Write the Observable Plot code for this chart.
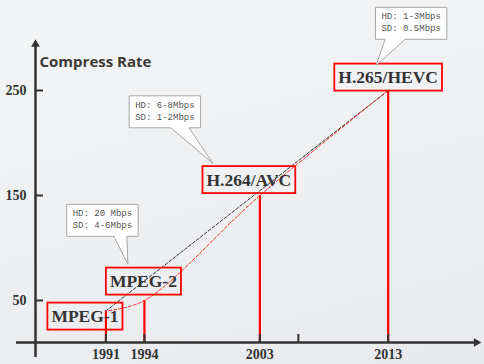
<!DOCTYPE html>
<html><head><meta charset="utf-8">
<script src="https://cdn.jsdelivr.net/npm/d3@7"></script>
<script src="https://cdn.jsdelivr.net/npm/@observablehq/plot@0.6"></script>
<style>
html,body{margin:0;padding:0;}
body{width:484px;height:364px;overflow:hidden;background:linear-gradient(165deg,#f4f5f6 0%,#eef0f2 50%,#e7e9ec 100%);}
#chart svg{display:block;}
</style></head><body><div id="chart"></div>
<script>
// ---- data ----
const standards = ["MPEG-1", "MPEG-2", "H.264/AVC", "H.265/HEVC"];
const years = [1991, 1994, 2003, 2013];
const rates = [40, 50, 150, 250];
const yTicks = [50, 150, 250];
const xTicks = [1991, 1994, 2003, 2006, 2013];
const xTickLabels = ["1991", "1994", "2003", "", "2013"];
const calloutFor = ["H.264/AVC", "H.265/HEVC", "MPEG-2"];
const calloutText = ["HD: 6-8Mbps\nSD: 1-2Mbps", "HD: 1-3Mbps\nSD: 0.5Mbps", "HD: 20 Mbps\nSD: 4-6Mbps"];
const yTitle = "Compress Rate";

// ---- layout / style ----
const W = 484, H = 364;
const marginLeft = 35, marginBottom = 22;
const xDomain = [1985.51, 2020.51];
const yDomain = [10, 335.7];
const x0 = xDomain[0], y0 = yDomain[0];
const pxPerYear = (W - marginLeft) / (xDomain[1] - xDomain[0]);
const pxPerUnit = (H - marginBottom) / (yDomain[1] - yDomain[0]);
const yArrowTop = 293, xArrowEnd = 2019.8;
const axisColor = "#333";
const labelOffsets = [[-21, 5.5], [-1, -19], [-11, -15.5], [0, -13]];
const calloutOffsets = [[-95, -85.5], [23, -69], [-42, -82]];
const calloutTips = [[48, 51.5], [-35, 42], [25.5, 44]];
const calloutBases = [[6, 24], [-26, -6], [11.5, 24.5]];

const points = standards.map((s, i) => ({standard: s, year: years[i], rate: rates[i]}));
const serif = "'Liberation Serif', 'Times New Roman', serif";

const marks = [
  Plot.ruleX(points, {x: "year", y1: y0, y2: "rate", stroke: "#ff0000", strokeWidth: 2.2}),
  Plot.line([points[0], points[points.length - 1]], {x: "year", y: "rate", stroke: "#333", strokeWidth: 1, strokeDasharray: "3,2"}),
  Plot.line(points, {x: "year", y: "rate", curve: "catmull-rom", stroke: "#ff3030", strokeWidth: 1, strokeDasharray: "3,2", strokeDashoffset: 2}),
  // axes
  Plot.ruleY([y0], {x1: x0, x2: xArrowEnd, insetLeft: -19, stroke: axisColor, strokeWidth: 2.5}),
  Plot.ruleX([x0], {y1: yArrowTop, y2: y0, insetBottom: -15, stroke: axisColor, strokeWidth: 2.5}),
  Plot.dot([{x: x0, y: yArrowTop}], {x: "x", y: "y", symbol: "triangle", r: 3.2, fill: axisColor, stroke: null, dy: -1}),
  Plot.dot([{x: xArrowEnd, y: y0}], {x: "x", y: "y", symbol: "triangle", r: 3.2, rotate: 90, fill: axisColor, stroke: null, dx: 1}),
  Plot.ruleY(yTicks, {y: d => d, x1: x0, x2: x0 + 8 / pxPerYear, stroke: axisColor, strokeWidth: 2}),
  Plot.ruleX(xTicks, {x: d => d, y1: y0, y2: y0 + 8 / pxPerUnit, stroke: axisColor, strokeWidth: 2}),
  Plot.text(yTicks, {x: x0, y: d => d, text: d => String(d), dx: -9, textAnchor: "end", fontFamily: serif, fontWeight: "bold", fontSize: 14, fill: "#333"}),
  Plot.text(xTicks, {x: d => d, y: y0, text: (d, i) => xTickLabels[i], dy: 12, fontFamily: serif, fontWeight: "bold", fontSize: 14, fill: "#333"}),
  Plot.text([yTitle], {frameAnchor: "top-left", text: d => d, dx: 4, dy: 62, textAnchor: "start", lineAnchor: "middle", fontFamily: "'Open Sans', sans-serif", fontWeight: "bold", fontSize: 15, fill: "#3b3936"}),
  ...points.map((p, i) => Plot.text([p], {x: "year", y: "rate", text: "standard", dx: labelOffsets[i][0], dy: labelOffsets[i][1], fontFamily: serif, fontWeight: "bold", fontSize: 17.5, fill: "#333", ariaDescription: "std-label"})),
  ...calloutFor.map((s, i) => Plot.text(points.filter(p => p.standard === s), {x: "year", y: "rate", text: () => calloutText[i], dx: calloutOffsets[i][0], dy: calloutOffsets[i][1], lineHeight: 1.33, fontFamily: "'Liberation Mono', monospace", fontSize: 9, fill: "#555", ariaDescription: "callout"}))
];

const plot = Plot.plot({
  width: W, height: H,
  marginLeft, marginBottom, marginTop: 0, marginRight: 0,
  x: {domain: xDomain, axis: null},
  y: {domain: yDomain, axis: null},
  style: {background: "transparent", overflow: "visible"},
  marks
});
document.getElementById("chart").append(plot);

const NS = "http://www.w3.org/2000/svg";
// red boxes around standard labels
plot.querySelectorAll('g[aria-description="std-label"] text').forEach(t => {
  const b = t.getBBox();
  const padX = 4, padY = 3.5;
  const r = document.createElementNS(NS, "rect");
  r.setAttribute("x", b.x - padX); r.setAttribute("y", b.y - padY);
  r.setAttribute("width", b.width + 2 * padX); r.setAttribute("height", b.height + 2 * padY);
  r.setAttribute("fill", "none"); r.setAttribute("stroke", "#ff0000"); r.setAttribute("stroke-width", 1.8);
  if (t.getAttribute("transform")) r.setAttribute("transform", t.getAttribute("transform"));
  t.parentNode.appendChild(r);
});
// callout boxes with pointers
plot.querySelectorAll('g[aria-description="callout"] text').forEach((t, i) => {
  const b = t.getBBox();
  const padX = 6, padY = 5;
  const l = b.x - padX, rr = b.x + b.width + padX, tp = b.y - padY, bt = b.y + b.height + padY;
  const cx = (l + rr) / 2, cy = (tp + bt) / 2;
  const tip = [cx + calloutTips[i][0], cy + calloutTips[i][1]];
  const base = [cx + calloutBases[i][0], cx + calloutBases[i][1]];
  const d = `M${l},${tp}H${rr}V${bt}H${base[1]}L${tip[0]},${tip[1]}L${base[0]},${bt}H${l}Z`;
  const p = document.createElementNS(NS, "path");
  p.setAttribute("d", d); p.setAttribute("fill", "#fff"); p.setAttribute("stroke", "#a6a6a6"); p.setAttribute("stroke-width", 1);
  if (t.getAttribute("transform")) p.setAttribute("transform", t.getAttribute("transform"));
  t.parentNode.insertBefore(p, t);
});
</script>
</body></html>
